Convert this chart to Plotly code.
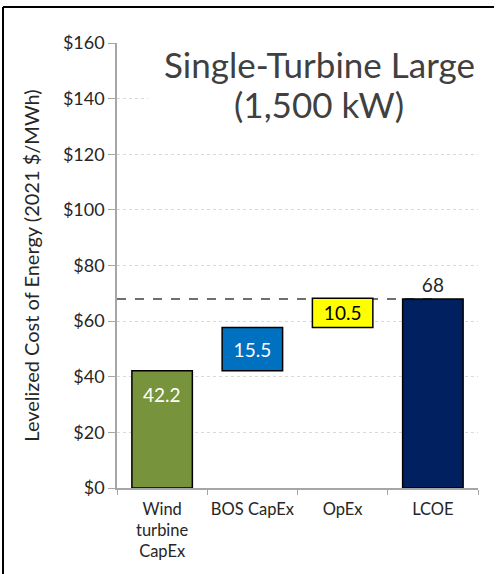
import plotly.graph_objects as go

categories = ["Wind<br>turbine<br>CapEx", "BOS CapEx", "OpEx", "LCOE"]
values = [42.2, 15.5, 10.5, 68]
labels = ["42.2", "15.5", "10.5", "68"]
bar_colors = ["#77933C", "#0070C0", "#FFFF00", "#002060"]
text_colors = ["white", "white", "black", "#262626"]
total_line = 68
y_ticks = [0, 20, 40, 60, 80, 100, 120, 140, 160]
y_ticktext = ["$" + str(v) for v in y_ticks]
title_lines = ["Single-Turbine Large", "(1,500 kW)"]

# waterfall bases
bases = []
run = 0.0
for i, v in enumerate(values):
    if i == len(values) - 1:
        bases.append(0)
    else:
        bases.append(run)
        run += v

W, H = 496, 574
PL, PT, PW, PH = 117, 43, 361, 445   # plot area in pixels
L, T = PL, PT
R, B = W - L - PW, H - T - PH

def px(x):
    return (x - PL) / PW

def py(y):
    return (PT + PH - y) / PH

FONT = "Lato"
fig = go.Figure()
for i in range(len(values)):
    last = i == len(values) - 1
    first = i == 0
    fig.add_trace(go.Bar(
        x=[categories[i]], y=[values[i]], base=[bases[i]],
        width=0.67,
        marker=dict(color=bar_colors[i], line=dict(color="black", width=1.5)),
        text=None if first else [labels[i]],
        textposition="outside" if last else "inside",
        insidetextanchor="middle",
        textfont=dict(color=text_colors[i], size=19, family=FONT),
        cliponaxis=False,
        showlegend=False,
        hoverinfo="skip",
    ))

# label of the first bar, near its top
fig.add_annotation(x=categories[0], y=bases[0] + values[0], text=labels[0],
                   showarrow=False, yshift=-24, yanchor="middle",
                   font=dict(color=text_colors[0], size=19, family=FONT))

fig.add_shape(type="line", xref="x", yref="y", x0=-0.5, x1=3,
              y0=total_line, y1=total_line, layer="below",
              line=dict(color="#404040", width=1.5, dash="dash"))

# white box behind title (hides gridlines)
fig.add_shape(type="rect", xref="paper", yref="paper",
              x0=px(148), x1=px(490), y0=py(36), y1=py(132),
              fillcolor="white", line=dict(width=0), layer="above")

# outer frame (left and top edges visible)
fig.add_shape(type="path", xref="paper", yref="paper",
              path="M {a},{b} L {c},{b} M {a},{b} L {a},{d}".format(
                  a=px(3), b=py(7), c=px(W - 2), d=py(H)),
              line=dict(color="black", width=2))

for txt, yc in zip(title_lines, [64, 104]):
    fig.add_annotation(xref="paper", yref="paper", x=px(319), y=py(yc),
                       text=txt, showarrow=False,
                       font=dict(family=FONT, size=35, color="#404040"),
                       xanchor="center", yanchor="middle")

fig.update_layout(
    width=W, height=H,
    margin=dict(l=L, r=R, t=T, b=B, autoexpand=False),
    paper_bgcolor="white", plot_bgcolor="white",
    barmode="overlay",
    font=dict(family=FONT, color="#262626"),
    xaxis=dict(
        type="category", categoryorder="array", categoryarray=categories,
        range=[-0.5, 3.5], automargin=False, tickangle=0,
        showline=True, linecolor="#A6A6A6", linewidth=1.5,
        ticks="outside", tickson="boundaries", ticklen=5, tickcolor="#A6A6A6",
        tickfont=dict(size=16.5, family=FONT, color="#262626"),
        ticklabelstandoff=5,
        showgrid=False,
    ),
    yaxis=dict(
        range=[0, 160], tickmode="array", tickvals=y_ticks, ticktext=y_ticktext,
        automargin=False,
        showline=True, linecolor="#A6A6A6", linewidth=1.5,
        ticks="outside", ticklen=7, tickcolor="#A6A6A6",
        tickfont=dict(size=18, family=FONT, color="#262626"),
        showgrid=True, gridcolor="#D9D9D9", griddash="dot", gridwidth=1,
        zeroline=False,
        title=dict(text="Levelized Cost of Energy (2021 $/MWh)",
                   font=dict(size=20, family=FONT, color="#262626"), standoff=18),
    ),
)

fig.write_html("out.html", config={"displayModeBar": False},
               post_script="document.body.style.margin='0';document.body.style.overflow='hidden';")
